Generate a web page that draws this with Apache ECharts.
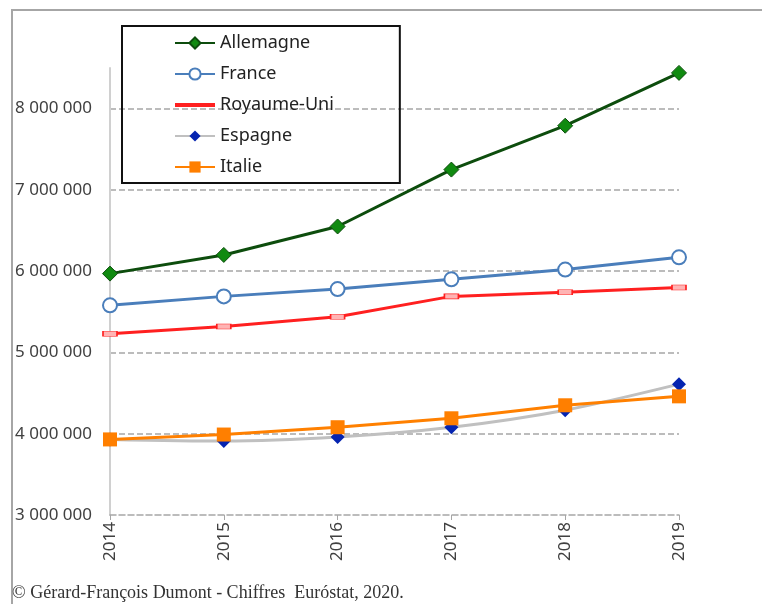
<!DOCTYPE html>
<html>
<head>
<meta charset="utf-8">
<script src="https://cdn.jsdelivr.net/npm/echarts@6/dist/echarts.min.js"></script>
<style>
  html, body { margin: 0; padding: 0; background: #fff; }
  #charts { width: 762px; height: 604px; }
</style>
</head>
<body>
<div id="charts"></div>
<script>
    var myChart = echarts.init(document.getElementById('charts'));

    // années
    var years = ['2014', '2015', '2016', '2017', '2018', '2019'];

    // valeurs
    var allemagne = [5970000, 6200000, 6550000, 7250000, 7790000, 8440000];
    var france = [5580000, 5690000, 5780000, 5900000, 6020000, 6170000];
    var royaumeUni = [5230000, 5320000, 5440000, 5690000, 5740000, 5800000];
    var espagne = [3930000, 3910000, 3960000, 4080000, 4290000, 4610000];
    var italie = [3930000, 3990000, 4080000, 4190000, 4350000, 4460000];

    var yMin = 3000000, yMax = 8500000, yStep = 1000000;

    function fmt(v) {
        return String(v).replace(/\B(?=(\d{3})+(?!\d))/g, ' ');
    }

    myChart.setOption({
        animation: false,
        textStyle: { fontFamily: 'Noto Sans' },
        graphic: [
            {
                type: 'rect',
                shape: { x: 12, y: 10, width: 800, height: 700 },
                style: { fill: null, stroke: '#a6a6a6', lineWidth: 2 },
                silent: true
            },
            {
                type: 'text',
                left: 12,
                top: 584,
                style: {
                    text: '\u00a9 G\u00e9rard-Fran\u00e7ois Dumont - Chiffres  Eur\u00f3stat, 2020.',
                    font: '18px "Liberation Serif"',
                    fill: '#333333'
                }
            }
        ],
        grid: { left: 110, right: 83, top: 68, bottom: 89 },
        legend: {
            orient: 'vertical',
            left: 122,
            top: 26,
            padding: [8, 66, 7, 52],
            borderColor: '#111111',
            borderWidth: 2,
            itemWidth: 40,
            itemHeight: 14,
            itemGap: 13,
            textStyle: { fontSize: 18, color: '#222222', fontFamily: 'Noto Sans' },
            data: [
                'Allemagne',
                'France',
                {
                    name: 'Royaume-Uni',
                    icon: 'path://M0,0L40,0L40,4L0,4Z',
                    itemStyle: { color: '#ff2020', borderWidth: 0 }
                },
                'Espagne',
                'Italie'
            ]
        },
        xAxis: {
            type: 'category',
            boundaryGap: false,
            data: years,
            axisLine: { lineStyle: { color: '#a6a6a6', type: 'dashed', width: 1.5 } },
            axisTick: { alignWithLabel: true, length: 5, lineStyle: { color: '#a6a6a6' } },
            axisLabel: { rotate: 90, margin: 7, fontSize: 17, color: '#404040' }
        },
        yAxis: {
            type: 'value',
            min: yMin,
            max: yMax,
            interval: yStep,
            axisLine: { show: true, lineStyle: { color: '#d0d0d0', width: 2 } },
            axisTick: { show: false },
            axisLabel: {
                fontSize: 17,
                color: '#404040',
                margin: 18,
                showMaxLabel: false,
                formatter: function (v) { return fmt(v); }
            },
            splitLine: {
                showMaxLine: false,
                showMinLine: false,
                lineStyle: { color: '#a6a6a6', type: 'dashed', width: 1.5 }
            }
        },
        series: [
            {
                name: 'Allemagne',
                type: 'line',
                data: allemagne,
                symbol: 'diamond',
                symbolSize: 15,
                lineStyle: { color: '#0d4d0d', width: 3 },
                itemStyle: { color: '#108a10', borderColor: '#0d4d0d', borderWidth: 1 }
            },
            {
                name: 'France',
                type: 'line',
                data: france,
                symbol: 'circle',
                symbolSize: 14,
                lineStyle: { color: '#4a7ebb', width: 3 },
                itemStyle: { color: '#ffffff', borderColor: '#4a7ebb', borderWidth: 2 }
            },
            {
                name: 'Royaume-Uni',
                type: 'line',
                data: royaumeUni,
                symbol: 'rect',
                symbolSize: [14, 5],
                lineStyle: { color: '#ff2020', width: 3 },
                itemStyle: { color: '#ffb4b4', borderColor: '#ff2020', borderWidth: 1 }
            },
            {
                name: 'Espagne',
                type: 'line',
                data: espagne,
                smooth: 0.3,
                symbol: 'diamond',
                symbolSize: 14,
                lineStyle: { color: '#c0c0c0', width: 3 },
                itemStyle: { color: '#0524b0' }
            },
            {
                name: 'Italie',
                type: 'line',
                data: italie,
                symbol: 'rect',
                symbolSize: 14,
                lineStyle: { color: '#ff8000', width: 3 },
                itemStyle: { color: '#ff7f00' }
            }
        ]
    });
</script>
</body>
</html>
